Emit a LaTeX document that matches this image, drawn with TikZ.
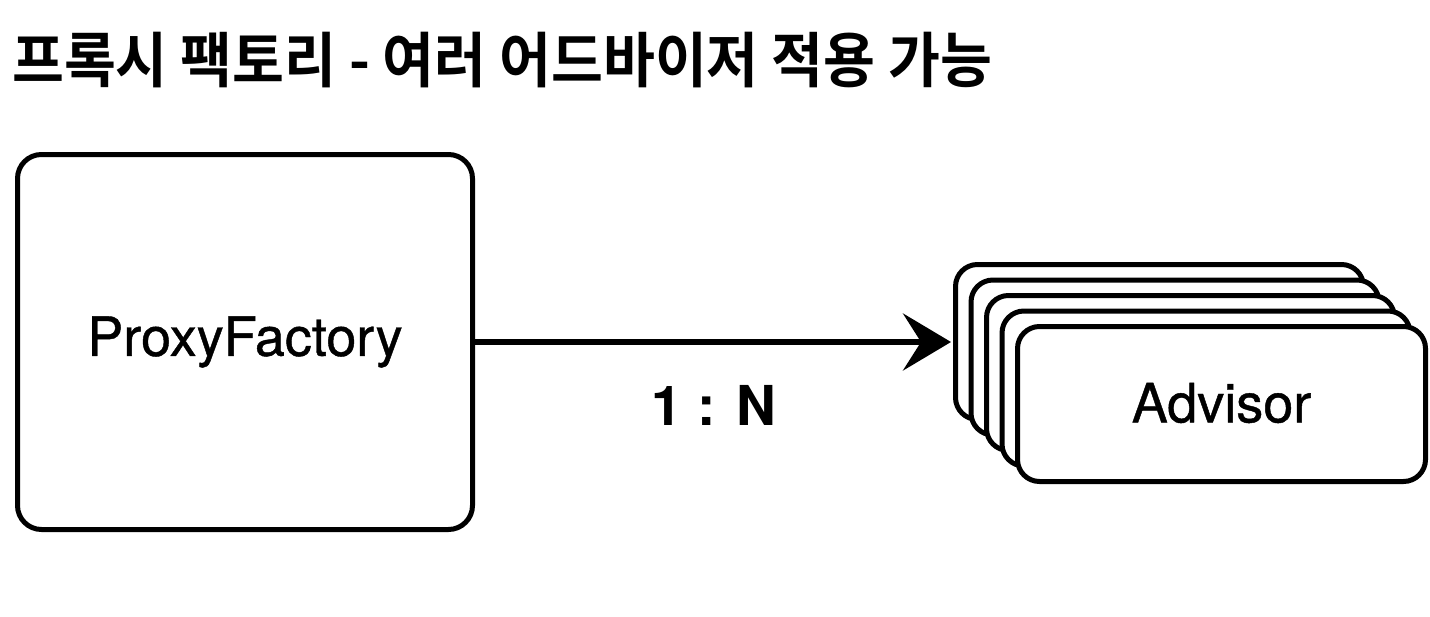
\documentclass[tikz,border=0pt]{standalone}
\usepackage{fontspec}
\setmainfont{TeX Gyre Heros}
\newfontfamily\lblfont{TeX Gyre Heros}[FakeBold=0.8]
\newfontfamily\krfont{Noto Sans CJK KR}[BoldFont={Noto Sans CJK KR Bold}]
\usetikzlibrary{arrows.meta}
\begin{document}
\begin{tikzpicture}[x=1pt,y=-1pt,
  box/.style={draw=black,line width=5pt,rounded corners=24pt,fill=white},
  lbl/.style={font=\lblfont\fontsize{54}{60}\selectfont},
  conn/.style={line width=5.5pt,-{Stealth[length=48pt,width=57pt,inset=18pt]}}]
\useasboundingbox (0,0) rectangle (1430,616);
% title
\node[anchor=west,inner sep=0pt] (title) at (12,60)
  {\scalebox{0.94}[1]{\krfont\bfseries\fontsize{60}{64}\selectfont 프록시 팩토리 - 여러 어드바이저 적용 가능}};
% ProxyFactory
\draw[box] (17.5,154.5) rectangle (472.5,529.5);
\node[lbl] (pf) at (245,342) {ProxyFactory};
\coordinate (pfE) at (475,342);
% advisors stack
\foreach \k in {0,1,2,3,4} {
  \draw[box,rounded corners=22pt] ({955.5+15.5*\k},{264.5+15.5*\k}) rectangle ++(408,155);
}
\node[lbl] (adv) at (1221.5,403) {Advisor};
\coordinate (advW) at (951,342);
\draw[conn] (pfE) -- (advW);
\node[font=\bfseries\fontsize{55}{60}\selectfont] (ratio) at (714,405) {1 : N};
\end{tikzpicture}
\end{document}
